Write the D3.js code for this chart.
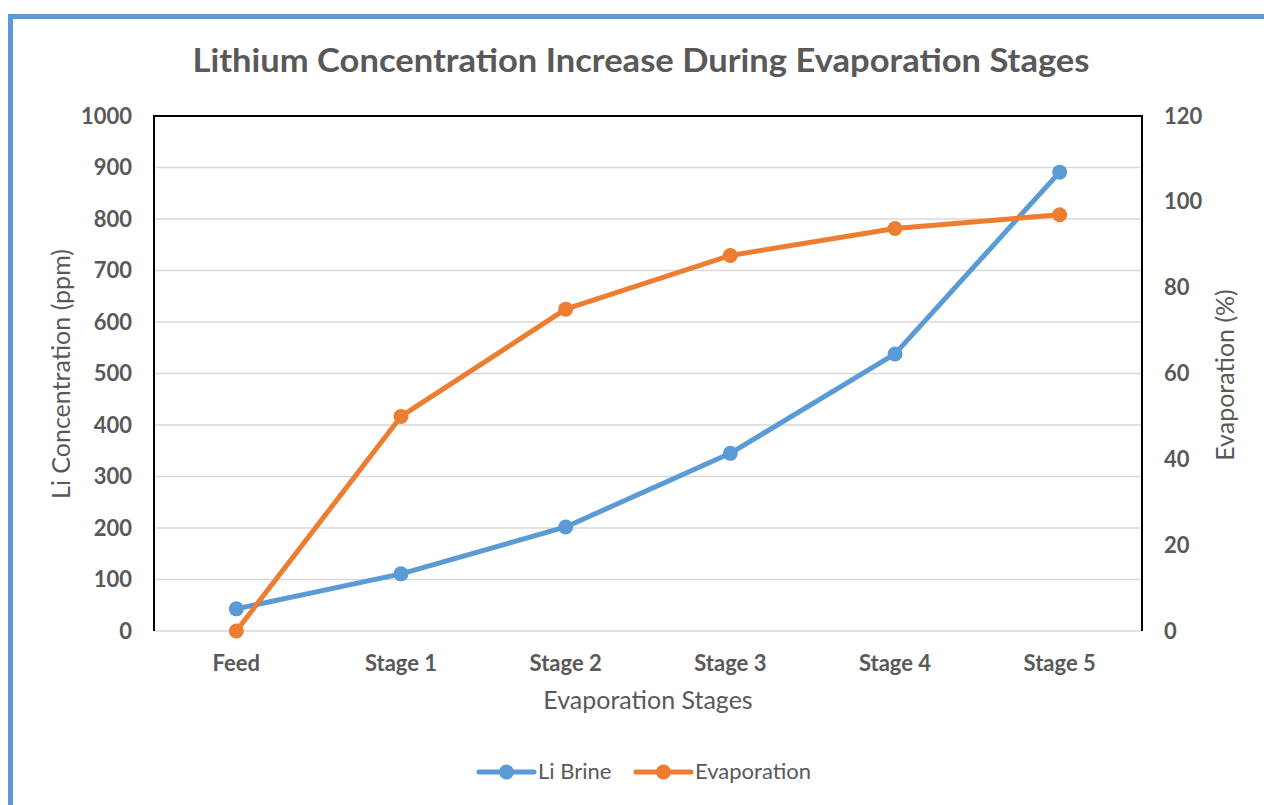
<!DOCTYPE html>
<html><head><meta charset="utf-8">
<script src="https://cdn.jsdelivr.net/npm/d3@7"></script>
<style>
html,body{margin:0;padding:0;background:#fff;}
svg{display:block;}
text{font-family:Lato,"Open Sans",sans-serif;fill:#595959;}
</style></head>
<body>
<svg id="chart" width="1264" height="805"></svg>
<script>
const categories = ["Feed","Stage 1","Stage 2","Stage 3","Stage 4","Stage 5"];
const liBrine = [43, 111, 202, 345, 538, 891];
const evaporation = [0, 50, 75, 87.5, 93.8, 97];
const leftTicks = [0,100,200,300,400,500,600,700,800,900,1000];
const rightTicks = [0,20,40,60,80,100,120];

const svg = d3.select("#chart");
const m = {left:154, right:1142, top:116, bottom:631};

// outer frame
svg.append("rect").attr("x",10.5).attr("y",16.5).attr("width",1300).attr("height",900)
  .attr("fill","none").attr("stroke","#5B9BD5").attr("stroke-width",5);

const x = d3.scaleBand().domain(categories).range([m.left,m.right]);
const yL = d3.scaleLinear().domain([0,1000]).range([m.bottom,m.top]);
const yR = d3.scaleLinear().domain([0,120]).range([m.bottom,m.top]);

// gridlines
svg.append("g").selectAll("line").data(leftTicks).join("line")
  .attr("x1",m.left).attr("x2",m.right)
  .attr("y1",d=>yL(d)).attr("y2",d=>yL(d))
  .attr("stroke","#d9d9d9").attr("stroke-width",1.5);

// plot border: top, left, right in black
svg.append("path")
  .attr("d",`M${m.left},${m.bottom}V${m.top}H${m.right}V${m.bottom}`)
  .attr("fill","none").attr("stroke","#000").attr("stroke-width",2);

// axes
const axL = d3.axisLeft(yL).tickValues(leftTicks).tickFormat(d3.format("d")).tickSize(0).tickPadding(22);
const gL = svg.append("g").attr("transform",`translate(${m.left},0)`).call(axL);
const axR = d3.axisRight(yR).tickValues(rightTicks).tickFormat(d3.format("d")).tickSize(0).tickPadding(22);
const gR = svg.append("g").attr("transform",`translate(${m.right},0)`).call(axR);
const axB = d3.axisBottom(x).tickSize(0).tickPadding(24);
const gB = svg.append("g").attr("transform",`translate(0,${m.bottom})`).call(axB);
[gL,gR,gB].forEach(g=>{
  g.select(".domain").remove();
  g.selectAll("text").attr("font-family","Lato,'Open Sans',sans-serif")
   .attr("font-size",22).attr("font-weight","bold").attr("fill","#595959");
});

// lines
const cx = (d,i)=>x(categories[i])+x.bandwidth()/2;
const lineL = d3.line().x(cx).y(d=>yL(d));
const lineR = d3.line().x(cx).y(d=>yR(d));
const blue = "#5B9BD5", orange = "#ED7D31";

svg.append("path").datum(liBrine).attr("d",lineL).attr("fill","none")
  .attr("stroke",blue).attr("stroke-width",5).attr("stroke-linejoin","round");
svg.append("g").selectAll("circle").data(liBrine).join("circle")
  .attr("cx",cx).attr("cy",d=>yL(d)).attr("r",7.5).attr("fill",blue);

svg.append("path").datum(evaporation).attr("d",lineR).attr("fill","none")
  .attr("stroke",orange).attr("stroke-width",5).attr("stroke-linejoin","round");
svg.append("g").selectAll("circle").data(evaporation).join("circle")
  .attr("cx",cx).attr("cy",d=>yR(d)).attr("r",7.5).attr("fill",orange);

// title
svg.append("text").attr("x",641).attr("y",72).attr("text-anchor","middle")
  .attr("font-size",32).attr("font-weight","bold")
  .attr("textLength",897).attr("lengthAdjust","spacingAndGlyphs")
  .text("Lithium Concentration Increase During Evaporation Stages");

// axis titles
svg.append("text").attr("transform","translate(70,374) rotate(-90)")
  .attr("text-anchor","middle").attr("font-size",25)
  .text("Li Concentration (ppm)");
svg.append("text").attr("transform","translate(1234,375) rotate(-90)")
  .attr("text-anchor","middle").attr("font-size",25)
  .text("Evaporation (%)");
svg.append("text").attr("x",648).attr("y",709).attr("text-anchor","middle")
  .attr("font-size",25).text("Evaporation Stages");

// legend
const legend = [{name:"Li Brine",color:blue,x:479},{name:"Evaporation",color:orange,x:636}];
const lg = svg.append("g").selectAll("g").data(legend).join("g")
  .attr("transform",d=>`translate(${d.x},772)`);
lg.append("line").attr("x1",0).attr("x2",55).attr("stroke",d=>d.color)
  .attr("stroke-width",5).attr("stroke-linecap","round");
lg.append("circle").attr("cx",27.5).attr("r",7.5).attr("fill",d=>d.color);
lg.append("text").attr("x",59).attr("y",7).attr("font-size",22).text(d=>d.name);
</script>
</body></html>
